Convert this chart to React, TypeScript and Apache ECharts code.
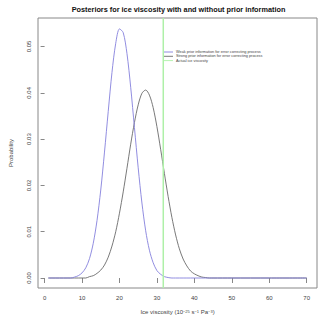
import React, { useEffect, useRef } from "react";
import * as echarts from "echarts";

const xs = [1, 2, 3, 4, 5, 6, 7, 8, 9, 10, 11, 12, 13, 14, 15, 16, 17, 18, 19, 20, 21, 22, 23, 24, 25, 26, 27, 28, 29, 30, 31, 32, 33, 34, 35, 36, 37, 38, 39, 40, 41, 42, 43, 44, 45, 50, 60, 70];
const weakPrior = [0, 0, 0, 0, 0, 0, 0, 0.0002, 0.0005, 0.0011, 0.0022, 0.0042, 0.0075, 0.0124, 0.019, 0.0272, 0.036, 0.0444, 0.0507, 0.0538, 0.053, 0.0485, 0.0412, 0.0325, 0.0238, 0.0162, 0.0102, 0.006, 0.0033, 0.0016, 0.0008, 0.0003, 0.0001, 0, 0, 0, 0, 0, 0, 0, 0, 0, 0, 0, 0, 0, 0, 0];
const strongPrior = [0, 0, 0, 0, 0, 0, 0, 0, 0, 0, 0, 0.0003, 0.0005, 0.001, 0.0017, 0.0028, 0.0045, 0.0069, 0.01, 0.014, 0.0186, 0.0237, 0.0289, 0.0336, 0.0374, 0.0399, 0.0406, 0.0395, 0.0368, 0.0327, 0.0278, 0.0226, 0.0176, 0.0131, 0.0093, 0.0063, 0.0041, 0.0026, 0.0015, 0.0009, 0.0005, 0.0002, 0.0001, 0, 0, 0, 0, 0];
const actualViscosity = 31.7;
const xTicks = [0, 10, 20, 30, 40, 50, 60, 70];
const yTicks = [0, 0.01, 0.02, 0.03, 0.04, 0.05];
const legendNames = [
  "Weak prior information for error correcting process",
  "Strong prior information for error correcting process",
  "Actual ice viscosity",
];
const colors = ["#8580dc", "#6a6a6a", "#aef0a8"];

const X_MIN = -1.76;
const X_MAX = 72.76;
const Y_MIN = -0.00216;
const Y_MAX = 0.05616;
const FONT = "Liberation Sans, Arial, sans-serif";

export default function App() {
  const ref = useRef<HTMLDivElement>(null);
  useEffect(() => {
    if (!ref.current) return;
    const chart = echarts.init(ref.current, null, { renderer: "svg" });
    const legendGraphics: any[] = [];
    legendNames.forEach((n, i) => {
      const y = 52 + i * 4.3;
      legendGraphics.push({
        type: "line",
        shape: { x1: 164, y1: y, x2: 173, y2: y },
        style: { stroke: colors[i], lineWidth: 0.9 },
      });
      legendGraphics.push({
        type: "text",
        x: 176,
        y: y,
        style: {
          text: n,
          fontSize: 3.8,
          fontFamily: FONT,
          fill: "#444",
          verticalAlign: "middle",
          textAlign: "left",
        },
      });
    });
    chart.setOption({
      animation: false,
      backgroundColor: "#fff",
      textStyle: { fontFamily: FONT },
      title: {
        text: "Posteriors for ice viscosity with and without prior information",
        left: 173.5,
        textAlign: "center",
        top: 1,
        textStyle: { fontSize: 7.3, fontWeight: "bold", color: "#111", fontFamily: FONT },
      },
      grid: {
        left: 30,
        right: 3,
        top: 18,
        bottom: 32,
        show: true,
        borderColor: "#888",
        borderWidth: 1,
        backgroundColor: "transparent",
      },
      xAxis: {
        type: "value",
        min: X_MIN,
        max: X_MAX,
        splitLine: { show: false },
        axisLine: { show: false },
        axisTick: { show: true, inside: false, length: 5, lineStyle: { color: "#888" }, customValues: xTicks },
        axisLabel: { fontSize: 6, color: "#444", margin: 7, customValues: xTicks, fontFamily: FONT },
        name: "{a|Ice viscosity (10}{s|−25}{a| s}{s|−1}{a| Pa}{s|−3}{a|)}",
        nameLocation: "middle",
        nameGap: 21,
        nameTextStyle: {
          rich: {
            a: { fontSize: 6, color: "#444", fontFamily: FONT, verticalAlign: "bottom" },
            s: { fontSize: 4, color: "#444", fontFamily: FONT, verticalAlign: "top" },
          },
        },
      },
      yAxis: {
        type: "value",
        min: Y_MIN,
        max: Y_MAX,
        splitLine: { show: false },
        axisLine: { show: false },
        axisTick: { show: true, inside: false, length: 4, lineStyle: { color: "#888" }, customValues: yTicks },
        axisLabel: {
          fontSize: 6,
          color: "#444",
          rotate: 90,
          margin: 6,
          customValues: yTicks,
          formatter: (v: number) => v.toFixed(2),
          fontFamily: FONT,
        },
        name: "Probability",
        nameLocation: "middle",
        nameGap: 24,
        nameTextStyle: { fontSize: 6, color: "#444", fontFamily: FONT },
      },
      graphic: legendGraphics,
      series: [
        {
          name: legendNames[1],
          type: "line",
          data: xs.map((x, i) => [x, strongPrior[i]]),
          showSymbol: false,
          smooth: 0.3,
          lineStyle: { color: colors[1], width: 0.9 },
          itemStyle: { color: colors[1] },
        },
        {
          name: legendNames[0],
          type: "line",
          data: xs.map((x, i) => [x, weakPrior[i]]),
          showSymbol: false,
          smooth: 0.3,
          lineStyle: { color: colors[0], width: 0.9 },
          itemStyle: { color: colors[0] },
        },
        {
          name: legendNames[2],
          type: "line",
          data: [
            [actualViscosity, Y_MIN],
            [actualViscosity, Y_MAX],
          ],
          showSymbol: false,
          lineStyle: { color: colors[2], width: 1.5 },
          itemStyle: { color: colors[2] },
        },
      ],
    });
    return () => chart.dispose();
  }, []);
  return (
    <div
      ref={ref}
      style={{ position: "fixed", left: 0, top: 0, width: 320, height: 320, background: "#fff" }}
    />
  );
}
